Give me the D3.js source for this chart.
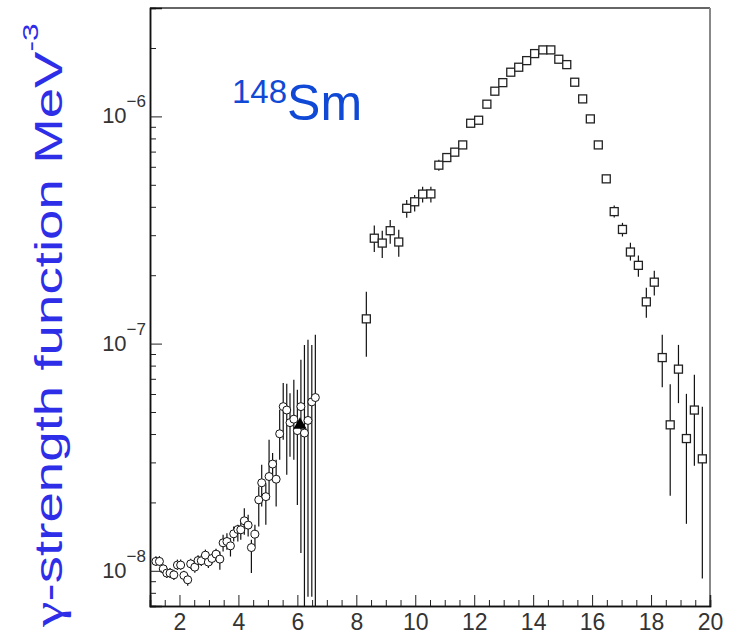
<!DOCTYPE html>
<html><head><meta charset="utf-8">
<script src="https://cdn.jsdelivr.net/npm/d3@7"></script>
<style>body{margin:0;background:#fff} svg{display:block}</style>
</head><body><svg id="c" width="731" height="637"></svg>
<script>
// ---- data ----
const xTickValues = [2,4,6,8,10,12,14,16,18,20];
const yMajorTicks = [1e-8,1e-7,1e-6];
const yTickExponents = ["\u22128","\u22127","\u22126"];

// open circles (units 1e-8)
const circleE = [1.20,1.32,1.45,1.57,1.68,1.81,1.93,2.04,2.15,2.28,2.38,2.52,2.63,2.74,2.88,2.98,3.10,3.24,3.37,3.48,3.61,3.73,3.84,3.98,4.08,4.20,4.33,4.44,4.56,4.69,4.79,4.93,5.04,5.16,5.28,5.40,5.52,5.64,5.75,5.88,6.00,6.12,6.24,6.36,6.49,6.61];
const circleVal = [1.10,1.10,1.02,0.977,0.977,0.96,1.06,1.06,0.954,0.913,1.073,1.038,1.11,1.107,1.172,1.092,1.133,1.184,1.126,1.328,1.346,1.288,1.455,1.52,1.515,1.66,1.589,1.266,1.45,2.053,2.44,2.12,2.60,2.95,2.53,4.01,5.28,5.10,4.49,4.65,4.14,5.28,4.04,4.59,5.54,5.79];
const circleLo = [1.05,1.05,0.97,0.93,0.93,0.91,1.01,1.01,0.90,0.86,1.02,0.98,1.05,1.05,1.11,1.03,1.07,1.12,1.01,1.216,1.237,1.156,1.346,1.346,1.369,1.44,1.415,0.977,1.279,1.567,1.919,1.594,2.053,2.51,1.919,3.08,3.77,2.65,3.18,3.08,1.95,1.197,0.70,0.769,0.769,0.50];
const circleHi = [1.16,1.16,1.07,1.03,1.03,1.01,1.12,1.12,1.00,0.96,1.13,1.09,1.17,1.17,1.24,1.15,1.19,1.25,1.216,1.44,1.465,1.393,1.567,1.594,1.676,1.887,1.764,1.369,1.594,2.35,2.93,2.43,3.77,3.30,3.08,5.11,6.70,6.65,6.05,6.93,6.26,8.48,9.87,10.39,9.87,10.93];

// open squares (units 1e-7)
const squareE = [8.34,8.61,8.88,9.15,9.44,9.71,9.98,10.25,10.53,10.80,11.07,11.34,11.61,11.88,12.15,12.43,12.70,12.97,13.24,13.51,13.78,14.05,14.33,14.60,14.87,15.14,15.41,15.68,15.94,16.21,16.48,16.75,17.03,17.30,17.57,17.84,18.11,18.38,18.65,18.93,19.20,19.47,19.74];
const squareVal = [1.285,2.91,2.77,3.14,2.80,3.94,4.21,4.55,4.56,6.10,6.59,6.96,7.49,9.33,9.62,11.32,12.91,14.08,15.65,16.46,17.60,18.90,19.62,19.62,17.85,16.90,14.14,11.94,9.75,7.49,5.31,3.81,3.18,2.53,2.21,1.527,1.864,0.868,0.439,0.772,0.382,0.510,0.311];
const squareLo = [0.875,2.53,2.38,2.75,2.41,3.58,3.81,4.18,4.18,5.77,6.35,6.72,7.25,9.05,9.33,11.0,12.55,13.7,15.2,16.0,17.1,18.4,19.1,19.1,17.4,16.4,13.7,11.6,9.45,7.25,5.10,3.59,2.96,2.32,1.97,1.30,1.63,0.643,0.214,0.547,0.161,0.290,0.0925];
const squareHi = [1.69,3.31,3.14,3.50,3.17,4.29,4.51,4.90,4.90,6.44,6.84,7.21,7.74,9.62,9.91,11.65,13.28,14.5,16.1,16.9,18.1,19.4,20.2,20.2,18.3,17.4,14.6,12.3,10.05,7.74,5.52,4.05,3.40,2.78,2.44,1.76,2.09,1.093,0.663,0.987,0.601,0.729,0.527];

// filled triangle
const triangleE = [6.09];
const triangleVal = [4.39e-8];

// ---- chart ----
const svg = d3.select("#c");
const W = 731, H = 637;
const pL = 150, pR = 710, pT = 8, pB = 606;
const x = d3.scaleLinear().domain([1,20]).range([pL,pR]);
const y = d3.scaleLog().domain([7e-9,3e-6]).range([pB,pT]);

svg.append("rect").attr("width",W).attr("height",H).attr("fill","#fff");
svg.append("defs").append("clipPath").attr("id","clip")
  .append("rect").attr("x",pL).attr("y",pT).attr("width",pR-pL).attr("height",pB-pT);

const circles = circleE.map((e,i)=>({e, v:circleVal[i]*1e-8, lo:circleLo[i]*1e-8, hi:circleHi[i]*1e-8}));
const squares = squareE.map((e,i)=>({e, v:squareVal[i]*1e-7, lo:squareLo[i]*1e-7, hi:squareHi[i]*1e-7}));
const tris = triangleE.map((e,i)=>({e, v:triangleVal[i]}));

const plot = svg.append("g").attr("clip-path","url(#clip)");
// error bars
plot.append("g").selectAll("line").data(circles).join("line")
  .attr("x1",d=>x(d.e)).attr("x2",d=>x(d.e))
  .attr("y1",d=>y(d.lo)).attr("y2",d=>y(d.hi))
  .attr("stroke","#111").attr("stroke-width",1.2);
plot.append("g").selectAll("line").data(squares).join("line")
  .attr("x1",d=>x(d.e)).attr("x2",d=>x(d.e))
  .attr("y1",d=>y(d.lo)).attr("y2",d=>y(d.hi))
  .attr("stroke","#111").attr("stroke-width",1.2);
// markers
plot.append("g").selectAll("circle").data(circles).join("circle")
  .attr("cx",d=>x(d.e)).attr("cy",d=>y(d.v)).attr("r",4)
  .attr("fill","#fff").attr("stroke","#111").attr("stroke-width",1);
plot.append("g").selectAll("rect").data(squares).join("rect")
  .attr("x",d=>x(d.e)-4).attr("y",d=>y(d.v)-4).attr("width",8).attr("height",8)
  .attr("fill","#fff").attr("stroke","#222").attr("stroke-width",1.3);
plot.append("g").selectAll("path").data(tris).join("path")
  .attr("transform",d=>`translate(${x(d.e)},${y(d.v)})`)
  .attr("d",d3.symbol(d3.symbolTriangle,75))
  .attr("fill","#000");

// frame
svg.append("line").attr("x1",pL).attr("x2",pR).attr("y1",pT).attr("y2",pT).attr("stroke","#333").attr("stroke-width",1.5);
svg.append("line").attr("x1",pR).attr("x2",pR).attr("y1",pT).attr("y2",pB).attr("stroke","#888").attr("stroke-width",2);

// x axis
const xMinor = d3.range(1.5,20,0.5).filter(v=>v%2!==0);
const gx = svg.append("g").attr("transform",`translate(0,${pB})`);
gx.call(d3.axisBottom(x).tickValues(xMinor).tickSize(-6).tickFormat(""));
const gx2 = svg.append("g").attr("transform",`translate(0,${pB})`);
gx2.call(d3.axisBottom(x).tickValues(xTickValues).tickSize(-11).tickPadding(8).tickFormat(d3.format("d")));
svg.selectAll(".domain").attr("stroke","#111").attr("stroke-width",1.5);
svg.selectAll(".tick line").attr("stroke","#222");
gx2.selectAll(".tick text").attr("font-family","'Liberation Sans', Arial, sans-serif").attr("font-size",23).attr("fill","#333");

// y axis
const yMinor = [];
[1e-9,1e-8,1e-7,1e-6].forEach(d=>{ for(let k=2;k<=9;k++){ const v=k*d; if(v>=7e-9 && v<=3e-6) yMinor.push(v);} });
const gy = svg.append("g").attr("transform",`translate(${pL},0)`);
gy.call(d3.axisLeft(y).tickValues(yMinor).tickSize(-6).tickFormat(""));
const gy2 = svg.append("g").attr("transform",`translate(${pL},0)`);
gy2.call(d3.axisLeft(y).tickValues(yMajorTicks).tickSize(-12).tickFormat(""));
svg.selectAll(".domain").attr("stroke","#111").attr("stroke-width",1.5);
svg.selectAll(".tick line").attr("stroke","#222");

yMajorTicks.forEach((t,i)=>{
  const ty = y(t);
  const tx = svg.append("text").attr("x",146).attr("y",ty+7).attr("text-anchor","end")
    .attr("font-family","'Liberation Sans', Arial, sans-serif").attr("fill","#333");
  tx.append("tspan").attr("font-size",22).text("10");
  tx.append("tspan").attr("font-size",17).attr("dy",-16).text(yTickExponents[i]);
});

// y title (stretched along text direction)
const yt = svg.append("text")
  .attr("font-family","'Liberation Sans', Arial, sans-serif").attr("font-size",38)
  .attr("fill","#2e2ee8").attr("text-anchor","start");
yt.append("tspan").attr("font-family","'Liberation Serif', serif").attr("font-size",40).text("\u03B3");
yt.append("tspan").text("-strength function MeV");
yt.append("tspan").attr("font-size",22).attr("dy",-24).text("-3");
const len = yt.node().getComputedTextLength();
const sx = 604/len;
yt.attr("transform",`translate(62,627) rotate(-90) scale(${sx},1)`);

// nucleus label
const lab = svg.append("text").attr("x",232).attr("y",120)
  .attr("font-family","'Liberation Sans', Arial, sans-serif").attr("fill","#1049d6");
lab.append("tspan").attr("font-size",33).attr("dy",-17).text("148");
lab.append("tspan").attr("font-size",50).attr("dy",17).text("Sm");
</script>
</body></html>
